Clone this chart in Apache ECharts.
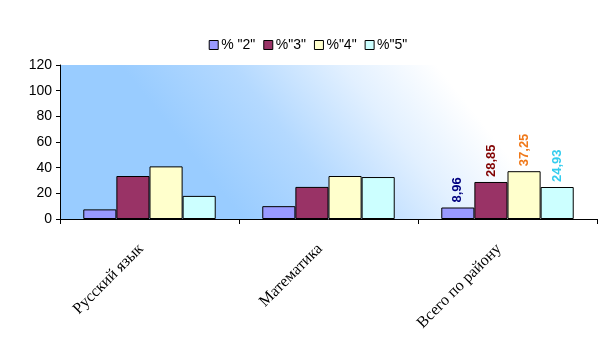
<!DOCTYPE html>
<html><head><meta charset="utf-8">
<script src="https://cdn.jsdelivr.net/npm/echarts@6/dist/echarts.min.js"></script>
<style>html,body{margin:0;padding:0;background:#fff}#c{width:616px;height:353px}</style>
</head><body><div id="c"></div>
<script>
const categories = ['Русский язык', 'Математика', 'Всего по району'];
const seriesNames = ['% "2"', '%"3"', '%"4"', '%"5"'];
const s2 = [7.5, 10, 8.96];
const s3 = [33.5, 25, 28.85];
const s4 = [41, 33.5, 37.25];
const s5 = [18, 32.7, 24.93];
const yTicks = [0, 20, 40, 60, 80, 100, 120];

const colors = ['#9999FF', '#993366', '#FFFFCC', '#CCFFFF'];
const labelColors = ['#000080', '#800000', '#F07818', '#33CCEE'];
const allData = [s2, s3, s4, s5];

const chart = echarts.init(document.getElementById('c'));
chart.setOption({
  animation: false,
  legend: {
    top: 33, left: 'center',
    itemWidth: 9, itemHeight: 9, itemGap: 8,
    icon: 'rect',
    textStyle: {fontFamily: 'Liberation Sans, Arial', fontSize: 14, color: '#000', padding: [0,0,0,-2]},
    data: seriesNames.map((n, i) => ({name: n, itemStyle: {color: colors[i], borderColor: '#000', borderWidth: 1}}))
  },
  grid: {left: 60, right: 19, top: 65, bottom: 134,
    show: true, borderWidth: 0,
    backgroundColor: new echarts.graphic.LinearGradient(0.17, 0.25, 0.53, -0.75, [
      {offset: 0, color: '#99CCFF'},
      {offset: 0.35, color: '#B4D9FF'},
      {offset: 0.7, color: '#E2F0FF'},
      {offset: 1, color: '#FFFFFF'}
    ])
  },
  xAxis: {
    type: 'category', data: categories,
    axisLine: {lineStyle: {color: '#000', width: 1}},
    axisTick: {show: true, alignWithLabel: false, length: 5, lineStyle: {color: '#000'}},
    axisLabel: {rotate: 45, fontFamily: 'Liberation Serif, Times New Roman', fontSize: 16, color: '#000', margin: 19, padding: [0, 12, 0, 0]}
  },
  yAxis: {
    type: 'value', min: 0, max: 120, interval: 20,
    axisLine: {show: true, lineStyle: {color: '#000', width: 1}},
    axisTick: {show: true, length: 4, lineStyle: {color: '#000'}},
    splitLine: {show: false},
    axisLabel: {fontFamily: 'Liberation Sans, Arial', fontSize: 14, color: '#000', margin: 8}
  },
  series: allData.map((arr, i) => ({
    name: seriesNames[i], type: 'bar',
    barGap: '0%', barCategoryGap: '26%',
    itemStyle: {color: colors[i], borderColor: '#000', borderWidth: 1},
    data: arr.map((v, j) => ({
      value: v,
      label: {
        show: j === 2, position: 'top', rotate: 90, align: 'left', verticalAlign: 'middle', distance: 5,
        fontFamily: 'Liberation Sans, Arial', fontSize: 13, fontWeight: 'bold', color: labelColors[i],
        formatter: p => String(p.value).replace('.', ',')
      }
    }))
  }))
});
</script></body></html>
